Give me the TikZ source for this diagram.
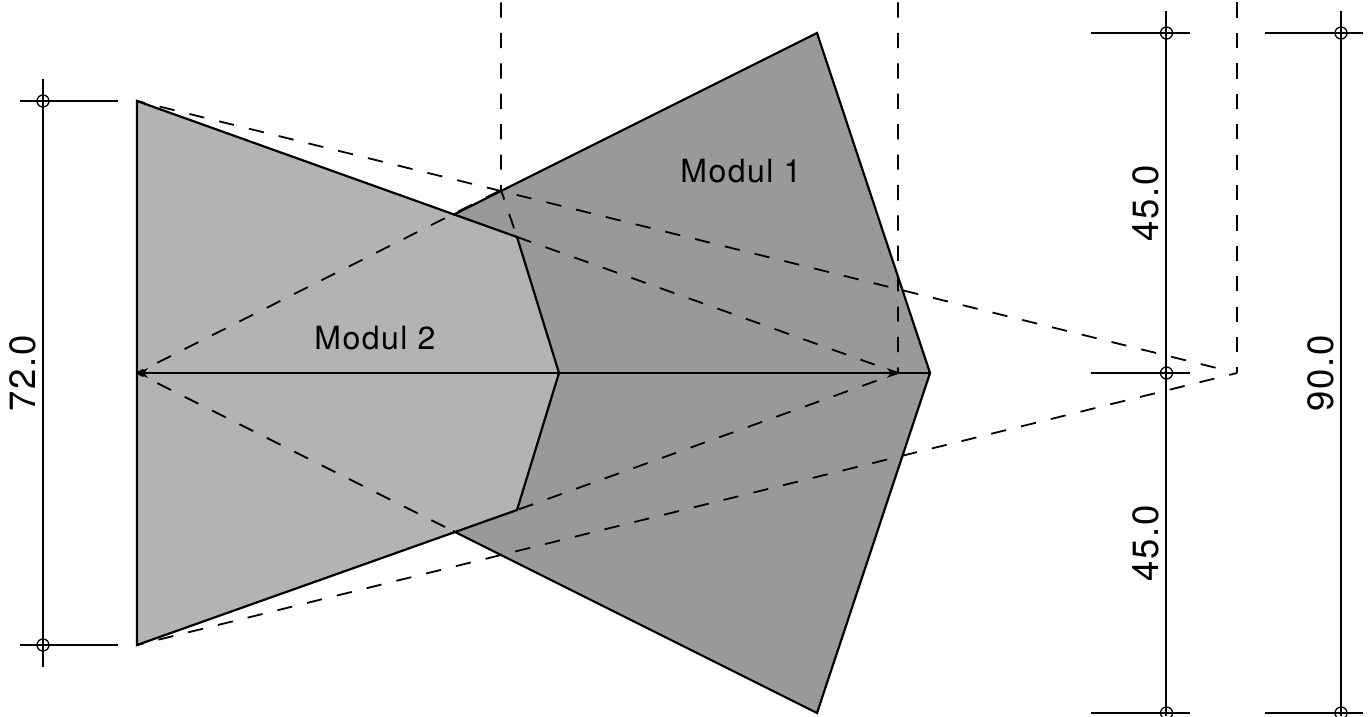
\documentclass[tikz,border=0pt]{standalone}
\usepackage{fontspec}
\setmainfont{TeX Gyre Heros}
\usetikzlibrary{arrows.meta}
\tikzset{
  x=1bp,y=-1bp,
  solid edge/.style={draw=black,line width=2.2bp,line join=miter},
  dimline/.style={draw=black,line width=1.4bp},
  dash line/.style={draw=black,line width=1.8bp,dash pattern=on 15.32bp off 15.32bp},
  dash vert/.style={draw=black,line width=1.8bp,dash pattern=on 15.2bp off 15.2bp},
  mark circle/.style={circle,draw=black,line width=1.3bp,minimum size=12bp,inner sep=0pt},
  label text/.style={font=\fontsize{32bp}{36bp}\selectfont\addfontfeature{LetterSpace=4.5},text=black,inner sep=0pt},
  dim text/.style={font=\fontsize{36.5bp}{40bp}\selectfont\addfontfeature{LetterSpace=5},text=black,inner sep=0pt,rotate=90}
}
\definecolor{modA}{HTML}{999999}
\definecolor{modB}{HTML}{B3B3B3}
\begin{document}
\begin{tikzpicture}
\useasboundingbox (0,0) rectangle (1369,716);
\clip (0,0) rectangle (1369,716);
\coordinate (LT) at (137,101);
\coordinate (LB) at (137,645);
\coordinate (LM) at (137,373);
\coordinate (F) at (1237,373);
\coordinate (FT) at (1237,2.5);
\coordinate (FE) at (1222,369.3);
\coordinate (G) at (898,373);
\coordinate (GT) at (898,2.5);
\coordinate (AT) at (501,2.5);
\coordinate (C) at (501,190);
\coordinate (P) at (517,237);
\coordinate (Q) at (517,510);
\coordinate (H) at (559,373);
\coordinate (U) at (453,215);
\coordinate (V) at (453,531);
\coordinate (T) at (817,33);
\coordinate (B) at (817,713);
\coordinate (R) at (930,373);
\path[fill=modA] (U)--(T)--(R)--(B)--(V)--(Q)--(H)--(P)--cycle;
\path[fill=modB] (LT)--(P)--(H)--(Q)--(LB)--cycle;
\draw[solid edge] (LB)--(LT)--(P)--(H)--(Q)--cycle;
\draw[solid edge] (U)--(T)--(R)--(B)--(V);
\draw[line width=2.8bp,{Stealth[length=11bp,width=10bp]}-{Stealth[length=11bp,width=10bp]}] (LM)--(G);
\draw[line width=2.8bp] (G)--(R);
% dashed rays
\draw[dash line,dash phase=7.3bp] (F)--(LB);
\draw[dash line,dash phase=7.3bp] (LT)--(FE);
\draw[dash vert] (FT)--(F);
\draw[dash vert] (GT)--(G)--(P);
\draw[dash vert,dash phase=7.5bp] (G)--(Q);
\draw[dash vert] (AT)--(C)--(P);
\draw[dash line,dash phase=8bp] (LM)--(C);
\draw[dash line,dash phase=8bp] (LM)--(V);
% dimensions
\draw[dimline] (43,79)--(43,667);
\draw[dimline] (20,101)--(118,101);
\draw[dimline] (20,645)--(118,645);
\node[mark circle] (c1) at (43,101) {};
\node[mark circle] (c2) at (43,645) {};
\draw[dimline] (1166.1,11)--(1166.1,716);
\draw[dimline] (1091,33)--(1190,33);
\draw[dimline] (1091,373)--(1190,373);
\draw[dimline] (1091,713)--(1190,713);
\node[mark circle] (c3) at (1166.5,33) {};
\node[mark circle] (c4) at (1166.5,373) {};
\node[mark circle] (c5) at (1166.5,713) {};
\draw[dimline] (1341,11)--(1341,716);
\draw[dimline] (1265,33)--(1363,33);
\draw[dimline] (1265,713)--(1363,713);
\node[mark circle] (c6) at (1341,33) {};
\node[mark circle] (c7) at (1341,713) {};
\node[label text] (m1) at (741,171) {Modul 1};
\node[label text] (m2) at (375,338) {Modul 2};
\node[dim text] (d1) at (23,373) {72.0};
\node[dim text] (d2) at (1146,203) {45.0};
\node[dim text] (d3) at (1146,543) {45.0};
\node[dim text] (d4) at (1321,373) {90.0};
\end{tikzpicture}
\end{document}
